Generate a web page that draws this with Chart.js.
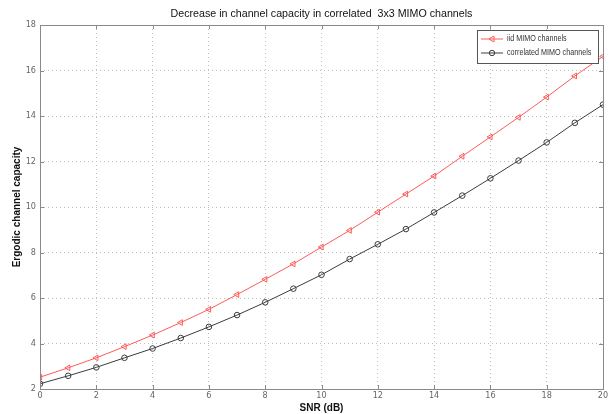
<!DOCTYPE html>
<html>
<head>
<meta charset="utf-8">
<script src="https://cdn.jsdelivr.net/npm/chart.js@4"></script>
<style>
  html, body { margin: 0; padding: 0; background: #fff; }
  #wrap { width: 616px; height: 414px; position: relative; }
</style>
</head>
<body>
<div id="wrap"><canvas id="chart"></canvas></div>
<script>
// SNR in dB
const snr = [0, 1, 2, 3, 4, 5, 6, 7, 8, 9, 10, 11, 12, 13, 14, 15, 16, 17, 18, 19, 20];
// capacity
const iidCap = [2.52, 2.93, 3.37, 3.86, 4.37, 4.92, 5.5, 6.15, 6.82, 7.5, 8.24, 8.97, 9.77, 10.57, 11.36, 12.23, 13.08, 13.94, 14.83, 15.76, 16.62];
const corrCap = [2.23, 2.58, 2.95, 3.37, 3.78, 4.24, 4.73, 5.25, 5.81, 6.41, 7.02, 7.71, 8.36, 9.03, 9.76, 10.5, 11.26, 12.04, 12.84, 13.7, 14.5];
const seriesNames = ["iid MIMO channels", "correlated MIMO channels"];
const titleText = "Decrease in channel capacity in correlated  3x3 MIMO channels";

const RED = "#ff5a5a";
const DARK = "#3c3c3c";
const AXIS = "#8a8a8a";
const TICK_FONT = "'DejaVu Sans Condensed', 'Liberation Sans', Arial";

// squeezed text, the original uses a narrow face
const narrowText = (ctx, text, x, y, sx) => {
  ctx.save();
  ctx.translate(x, y);
  ctx.scale(sx, 1);
  ctx.fillText(text, 0, 0);
  ctx.restore();
};

const toPoints = (vals) => vals.map((v, i) => ({ x: snr[i], y: v }));

// draws the box around the plot, inner ticks, the title and the legend (matlab style)
const framePlugin = {
  id: "frame",
  afterDraw(chart) {
    const ctx = chart.ctx;
    const a = chart.chartArea;
    ctx.save();
    ctx.strokeStyle = AXIS;
    ctx.lineWidth = 1;
    ctx.strokeRect(a.left + 0.5, a.top + 0.5, a.right - a.left, a.bottom - a.top);

    // short ticks pointing into the plot
    ctx.beginPath();
    chart.scales.x.ticks.forEach((t) => {
      const px = Math.round(chart.scales.x.getPixelForValue(t.value)) + 0.5;
      ctx.moveTo(px, a.bottom);
      ctx.lineTo(px, a.bottom - 4);
      ctx.moveTo(px, a.top);
      ctx.lineTo(px, a.top + 4);
    });
    chart.scales.y.ticks.forEach((t) => {
      const py = Math.round(chart.scales.y.getPixelForValue(t.value)) + 0.5;
      ctx.moveTo(a.left, py);
      ctx.lineTo(a.left + 4, py);
      ctx.moveTo(a.right, py);
      ctx.lineTo(a.right - 4, py);
    });
    ctx.stroke();

    // title
    ctx.fillStyle = "#111";
    ctx.font = "11px 'Liberation Sans', Arial";
    ctx.textAlign = "center";
    ctx.textBaseline = "middle";
    narrowText(ctx, titleText, (a.left + a.right) / 2, 14, 0.97);

    // legend box
    const lx = 477, ly = 30, lw = 121, lh = 33;
    ctx.fillStyle = "#fff";
    ctx.fillRect(lx, ly, lw, lh);
    ctx.strokeStyle = "#555";
    ctx.strokeRect(lx + 0.5, ly + 0.5, lw, lh);
    ctx.font = "9px 'Liberation Sans', Arial";
    ctx.textAlign = "left";
    chart.data.datasets.forEach((ds, i) => {
      const y = ly + 9 + i * 14;
      ctx.strokeStyle = ds.borderColor;
      ctx.lineWidth = 1;
      ctx.beginPath();
      ctx.moveTo(lx + 4, y);
      ctx.lineTo(lx + 26, y);
      ctx.stroke();
      // marker
      ctx.beginPath();
      if (ds.pointStyle === "triangle") {
        const cx = lx + 15;
        ctx.moveTo(cx - 3, y);
        ctx.lineTo(cx + 2, y - 3);
        ctx.lineTo(cx + 2, y + 3);
        ctx.closePath();
      } else {
        ctx.arc(lx + 15, y, 2.7, 0, Math.PI * 2);
      }
      ctx.stroke();
      ctx.fillStyle = "#333";
      narrowText(ctx, ds.label, lx + 30, y, 0.8);
    });
    ctx.restore();
  },
};

const ctx = document.getElementById("chart").getContext("2d");
new Chart(ctx, {
  type: "line",
  data: {
    datasets: [
      {
        label: seriesNames[0],
        data: toPoints(iidCap),
        borderColor: RED,
        backgroundColor: "transparent",
        borderWidth: 1,
        pointStyle: "triangle",
        pointRotation: -90,
        pointRadius: 3.3,
        pointBorderColor: RED,
        pointBackgroundColor: "rgba(0,0,0,0)",
        pointBorderWidth: 1,
        tension: 0,
      },
      {
        label: seriesNames[1],
        data: toPoints(corrCap),
        borderColor: DARK,
        backgroundColor: "transparent",
        borderWidth: 1,
        pointStyle: "circle",
        pointRadius: 2.8,
        pointBorderColor: DARK,
        pointBackgroundColor: "rgba(0,0,0,0)",
        pointBorderWidth: 1,
        tension: 0,
      },
    ],
  },
  options: {
    responsive: true,
    maintainAspectRatio: false,
    animation: false,
    layout: { padding: { top: 25, right: 13, left: 0, bottom: 0 } },
    plugins: {
      legend: { display: false },
      title: { display: false },
      tooltip: { enabled: false },
    },
    scales: {
      x: {
        type: "linear",
        min: 0,
        max: 20,
        ticks: {
          stepSize: 2,
          color: "#666",
          padding: 1,
          font: { family: TICK_FONT, size: 9 },
        },
        grid: { color: "#bdbdbd", tickLength: 0, drawTicks: false },
        border: { display: false, dash: [1, 3] },
        title: {
          display: true,
          text: "SNR (dB)",
          color: "#111",
          padding: { top: 0, bottom: 0 },
          font: { family: "'Liberation Sans', Arial", size: 10, weight: "bold" },
        },
        afterFit: (s) => { s.height = 25; },
      },
      y: {
        min: 2,
        max: 18,
        ticks: {
          stepSize: 2,
          color: "#666",
          padding: 4,
          font: { family: TICK_FONT, size: 9 },
        },
        grid: { color: "#bdbdbd", tickLength: 0, drawTicks: false },
        border: { display: false, dash: [1, 3] },
        title: {
          display: true,
          text: "Ergodic channel capacity",
          color: "#111",
          padding: { top: 11, bottom: 0 },
          font: { family: "'Liberation Sans', Arial", size: 10, weight: "bold" },
        },
        afterFit: (s) => { s.width = 40; },
      },
    },
  },
  plugins: [framePlugin],
});
</script>
</body>
</html>
